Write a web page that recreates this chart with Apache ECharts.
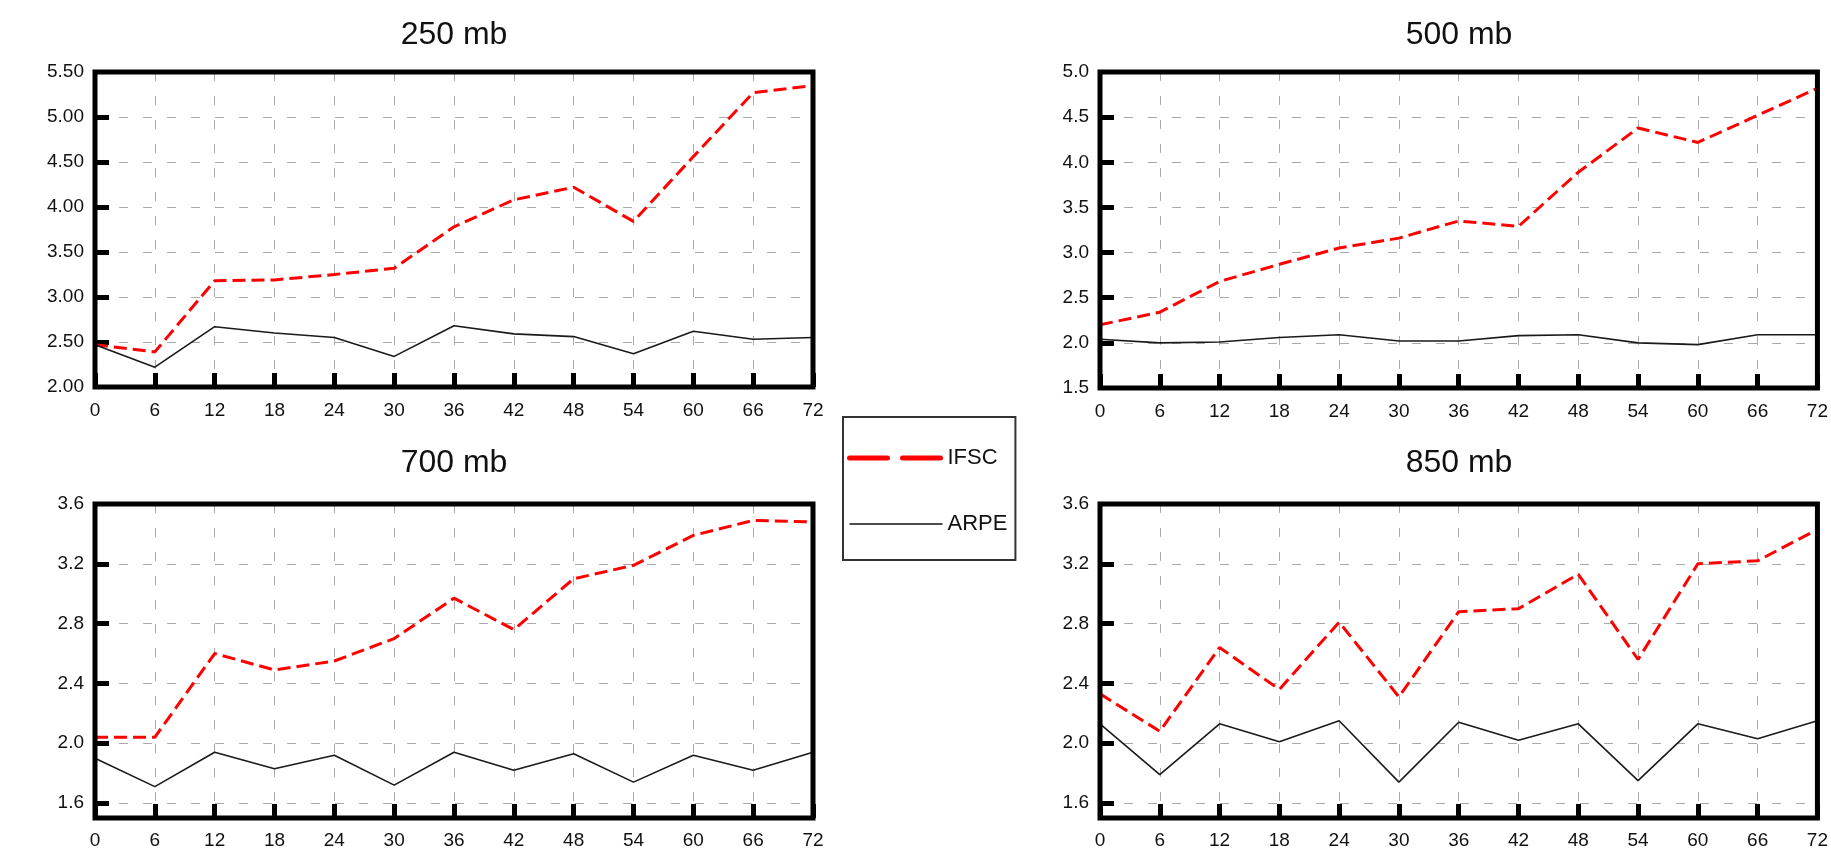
<!DOCTYPE html>
<html>
<head>
<meta charset="utf-8">
<title>IFSC vs ARPE</title>
<script src="https://cdn.jsdelivr.net/npm/echarts@6/dist/echarts.min.js"></script>
<style>
  html, body { margin: 0; padding: 0; background: #fff; }
  #main { width: 1831px; height: 855px; }
</style>
</head>
<body>
<div id="main"></div>
<script>
// forecast hours
var hours = ['0', '6', '12', '18', '24', '30', '36', '42', '48', '54', '60', '66', '72'];

// 250 mb
var ifsc250 = [2.47, 2.39, 3.18, 3.19, 3.25, 3.32, 3.78, 4.08, 4.22, 3.84, 4.56, 5.27, 5.35];
var arpe250 = [2.47, 2.22, 2.67, 2.60, 2.55, 2.34, 2.68, 2.59, 2.56, 2.37, 2.62, 2.53, 2.55];
// 500 mb
var ifsc500 = [2.20, 2.34, 2.68, 2.87, 3.05, 3.16, 3.35, 3.29, 3.89, 4.38, 4.22, 4.52, 4.82];
var arpe500 = [2.04, 2.00, 2.01, 2.06, 2.09, 2.02, 2.02, 2.08, 2.09, 2.00, 1.98, 2.09, 2.09];
// 700 mb
var ifsc700 = [2.04, 2.04, 2.60, 2.49, 2.55, 2.70, 2.97, 2.76, 3.10, 3.19, 3.39, 3.49, 3.48];
var arpe700 = [1.90, 1.71, 1.94, 1.83, 1.92, 1.72, 1.94, 1.82, 1.93, 1.74, 1.92, 1.82, 1.94];
// 850 mb
var ifsc850 = [2.33, 2.08, 2.64, 2.36, 2.81, 2.31, 2.88, 2.90, 3.13, 2.56, 3.20, 3.22, 3.43];
var arpe850 = [2.13, 1.79, 2.13, 2.01, 2.15, 1.74, 2.14, 2.02, 2.13, 1.75, 2.13, 2.03, 2.15];

// y tick labels
var yTicks250 = [2.0, 2.5, 3.0, 3.5, 4.0, 4.5, 5.0, 5.5];
var yTicks500 = [1.5, 2.0, 2.5, 3.0, 3.5, 4.0, 4.5, 5.0];
var yTicksLow = [1.6, 2.0, 2.4, 2.8, 3.2, 3.6];

var titles = ['250 mb', '500 mb', '700 mb', '850 mb'];

var FONT = '"Liberation Sans", Arial, sans-serif';
var chart = echarts.init(document.getElementById('main'));

var grids = [
  {left: 95, top: 72, width: 718, height: 315},
  {left: 1100, top: 72, width: 718, height: 316},
  {left: 95, top: 504, width: 718, height: 314},
  {left: 1100, top: 504, width: 718, height: 314}
];
grids.forEach(function (g) {
  g.show = true;
  g.z = 3;
  g.borderColor = '#000';
  g.borderWidth = 5;
  g.backgroundColor = 'transparent';
});

var gridDash = {color: '#aaa', width: 1, type: [9, 15]};

function xAxis(i) {
  return {
    type: 'category',
    gridIndex: i,
    data: hours,
    boundaryGap: false,
    axisLine: {show: false},
    axisTick: {show: true, inside: true, length: 14, lineStyle: {color: '#000', width: 5}},
    axisLabel: {margin: i < 2 ? 14 : 13, fontSize: 19, color: '#111', fontFamily: FONT},
    splitLine: {show: true, lineStyle: gridDash}
  };
}

function yAxis(i, min, max, ticks, digits) {
  // inner ticks only (edges are covered by the frame)
  var inner = ticks.filter(function (v) { return v > min && v < max; });
  return {
    type: 'value',
    gridIndex: i,
    min: min,
    max: max,
    axisLine: {show: false},
    axisTick: {show: true, inside: true, length: 14, customValues: inner,
      lineStyle: {color: '#000', width: 5}},
    axisLabel: {margin: 11, fontSize: 19, color: '#111', fontFamily: FONT,
      customValues: ticks,
      formatter: function (v) { return v.toFixed(digits); }},
    splitLine: {show: true, lineStyle: gridDash}
  };
}

function ifsc(i, data) {
  return {
    name: 'IFSC', type: 'line', xAxisIndex: i, yAxisIndex: i, data: data,
    symbol: 'none', z: 2,
    lineStyle: {color: '#ff0000', width: 3, type: [13, 6]}
  };
}
function arpe(i, data) {
  return {
    name: 'ARPE', type: 'line', xAxisIndex: i, yAxisIndex: i, data: data,
    symbol: 'none', z: 2,
    lineStyle: {color: '#1a1a1a', width: 1.6}
  };
}

var titleOpts = titles.map(function (t, i) {
  var g = grids[i];
  return {
    text: t,
    left: g.left + g.width / 2,
    top: i < 2 ? 19 : 447,
    textAlign: 'center',
    padding: 0,
    textStyle: {fontSize: 32, fontWeight: 'normal', color: '#111', fontFamily: FONT}
  };
});

var option = {
  animation: false,
  title: titleOpts,
  grid: grids,
  legend: {
    orient: 'vertical',
    left: 843,
    top: 417,
    padding: [30, 8, 25, 4],
    itemGap: 44,
    itemWidth: 93,
    itemHeight: 5,
    selectedMode: false,
    borderColor: '#333',
    borderWidth: 2,
    textStyle: {fontSize: 22, color: '#111', fontFamily: FONT},
    data: [
      {name: 'IFSC', itemStyle: {opacity: 0},
        lineStyle: {color: '#ff0000', width: 5, type: [38, 15], cap: 'round'}},
      {name: 'ARPE', itemStyle: {opacity: 0},
        lineStyle: {color: '#111', width: 1.6, type: 'solid'}}
    ]
  },
  xAxis: [xAxis(0), xAxis(1), xAxis(2), xAxis(3)],
  yAxis: [
    yAxis(0, 2.0, 5.5, yTicks250, 2),
    yAxis(1, 1.5, 5.0, yTicks500, 1),
    yAxis(2, 1.5, 3.6, yTicksLow, 1),
    yAxis(3, 1.5, 3.6, yTicksLow, 1)
  ],
  series: [
    ifsc(0, ifsc250), arpe(0, arpe250),
    ifsc(1, ifsc500), arpe(1, arpe500),
    ifsc(2, ifsc700), arpe(2, arpe700),
    ifsc(3, ifsc850), arpe(3, arpe850)
  ]
};

chart.setOption(option);
</script>
</body>
</html>
